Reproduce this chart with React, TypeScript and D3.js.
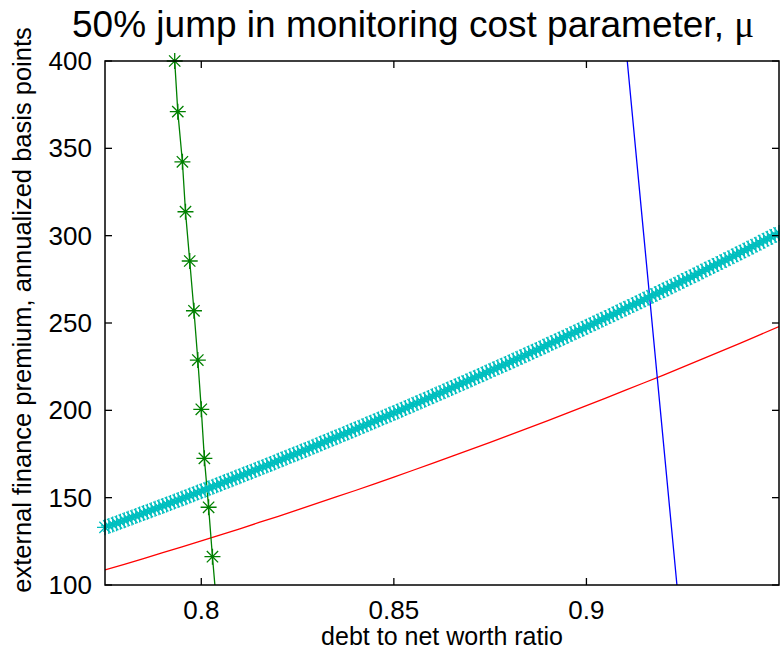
import React, { useEffect, useRef } from 'react';
import * as d3 from 'd3';

// axis ticks
const xTicks = [0.8, 0.85, 0.9];
const yTicks = [100, 150, 200, 250, 300, 350, 400];

// cyan series (with 50% jump in mu), x grid 0.775 .. 0.95 step 0.001
const jumpStart = 0.775;
const jumpStep = 0.001;
const premiumJump = [
  133.0, 133.8, 134.6, 135.4, 136.2, 137.1, 137.9, 138.7, 139.5, 140.3,
  141.2, 142.0, 142.8, 143.6, 144.5, 145.3, 146.1, 147.0, 147.8, 148.6,
  149.5, 150.3, 151.2, 152.0, 152.9, 153.7, 154.6, 155.4, 156.3, 157.1,
  158.0, 158.9, 159.7, 160.6, 161.5, 162.3, 163.2, 164.1, 164.9, 165.8,
  166.7, 167.6, 168.4, 169.3, 170.2, 171.1, 172.0, 172.9, 173.8, 174.7,
  175.5, 176.4, 177.3, 178.2, 179.1, 180.0, 181.0, 181.9, 182.8, 183.7,
  184.6, 185.5, 186.4, 187.3, 188.3, 189.2, 190.1, 191.0, 192.0, 192.9,
  193.8, 194.8, 195.7, 196.6, 197.6, 198.5, 199.4, 200.4, 201.3, 202.3,
  203.2, 204.2, 205.1, 206.1, 207.0, 208.0, 209.0, 209.9, 210.9, 211.9,
  212.8, 213.8, 214.8, 215.7, 216.7, 217.7, 218.7, 219.6, 220.6, 221.6,
  222.6, 223.6, 224.6, 225.5, 226.5, 227.5, 228.5, 229.5, 230.5, 231.5,
  232.5, 233.5, 234.5, 235.5, 236.5, 237.6, 238.6, 239.6, 240.6, 241.6,
  242.6, 243.7, 244.7, 245.7, 246.7, 247.8, 248.8, 249.8, 250.9, 251.9,
  252.9, 254.0, 255.0, 256.1, 257.1, 258.2, 259.2, 260.3, 261.3, 262.4,
  263.4, 264.5, 265.5, 266.6, 267.7, 268.7, 269.8, 270.9, 271.9, 273.0,
  274.1, 275.2, 276.2, 277.3, 278.4, 279.5, 280.6, 281.7, 282.7, 283.8,
  284.9, 286.0, 287.1, 288.2, 289.3, 290.4, 291.5, 292.6, 293.7, 294.8,
  295.9, 297.1, 298.2, 299.3, 300.4, 301.5,
];

// red series (baseline), x grid 0.775 .. 0.95 step 0.005
const baseStart = 0.775;
const baseStep = 0.005;
const premiumBase = [
  108.6, 111.8, 115.1, 118.5, 121.8, 125.2, 128.7, 132.2, 135.8, 139.3,
  143.0, 146.7, 150.4, 154.1, 157.9, 161.8, 165.7, 169.6, 173.6, 177.6,
  181.7, 185.8, 189.9, 194.1, 198.4, 202.7, 207.0, 211.4, 215.8, 220.2,
  224.7, 229.3, 233.9, 238.5, 243.2, 247.9,
];

// green series (with markers)
const greenX = [0.7922, 0.7931, 0.7939, 0.7951, 0.7959, 0.797, 0.7981, 0.7991, 0.8, 0.8008, 0.8019, 0.8029, 0.804];
const greenY = [428.6, 400.0, 371.0, 342.3, 313.7, 285.5, 257.0, 228.8, 200.6, 172.5, 144.5, 116.2, 87.8];

// blue series
const blueX = [0.9106, 0.9149, 0.9192, 0.9235];
const blueY = [400, 300, 200, 100];

const W = 780;
const H = 655;
const left = 105, right = 779, top = 61, bottom = 585;
const font = '"Liberation Sans", Arial, Helvetica, sans-serif';

const starPath = (r) => {
  const d = r * 0.7071;
  return `M${-r},0H${r}M0,${-r}V${r}M${-d},${-d}L${d},${d}M${-d},${d}L${d},${-d}`;
};

const App = () => {
  const ref = useRef(null);

  useEffect(() => {
    const svg = d3.select(ref.current);
    svg.selectAll('*').remove();

    const x = d3.scaleLinear().domain([0.775, 0.95]).range([left, right]);
    const y = d3.scaleLinear().domain([100, 400]).range([bottom, top]);

    svg.append('rect').attr('width', W).attr('height', H).attr('fill', '#fff');

    svg.append('defs').append('clipPath').attr('id', 'plotclip')
      .append('rect').attr('x', left).attr('y', top)
      .attr('width', right - left).attr('height', bottom - top);

    const line = d3.line().x(d => x(d[0])).y(d => y(d[1]));

    const jumpPts = premiumJump.map((v, i) => [jumpStart + i * jumpStep, v]);
    const basePts = premiumBase.map((v, i) => [baseStart + i * baseStep, v]);
    const greenPts = greenX.map((v, i) => [v, greenY[i]]);
    const bluePts = blueX.map((v, i) => [v, blueY[i]]);

    const plot = svg.append('g').attr('clip-path', 'url(#plotclip)');

    plot.append('path').attr('d', line(basePts)).attr('fill', 'none')
      .attr('stroke', '#ff0000').attr('stroke-width', 1.3);
    plot.append('path').attr('d', line(bluePts)).attr('fill', 'none')
      .attr('stroke', '#0000ff').attr('stroke-width', 1.3);
    plot.append('path').attr('d', line(greenPts)).attr('fill', 'none')
      .attr('stroke', '#008000').attr('stroke-width', 1.3);
    plot.append('path').attr('d', line(jumpPts)).attr('fill', 'none')
      .attr('stroke', '#00bfbf').attr('stroke-width', 1.3);

    // markers are not clipped, only drawn for points inside the axes
    const inside = d => d[0] >= 0.775 - 1e-9 && d[0] <= 0.95 + 1e-9 && d[1] >= 100 && d[1] <= 400;

    svg.append('g').selectAll('path')
      .data(greenPts.filter(inside))
      .enter().append('path')
      .attr('transform', d => `translate(${x(d[0])},${y(d[1])})`)
      .attr('d', starPath(8))
      .attr('fill', 'none').attr('stroke', '#008000').attr('stroke-width', 1.3);

    svg.append('g').selectAll('path')
      .data(jumpPts.filter(inside))
      .enter().append('path')
      .attr('transform', d => `translate(${x(d[0])},${y(d[1])})`)
      .attr('d', starPath(8))
      .attr('fill', 'none').attr('stroke', '#00bfbf').attr('stroke-width', 1.3);

    // box
    svg.append('rect').attr('x', left).attr('y', top)
      .attr('width', right - left).attr('height', bottom - top)
      .attr('fill', 'none').attr('stroke', '#000').attr('stroke-width', 1.5);

    const tl = 7;
    const ax = svg.append('g').attr('stroke', '#000').attr('stroke-width', 1.3);
    xTicks.forEach(t => {
      ax.append('line').attr('x1', x(t)).attr('x2', x(t)).attr('y1', bottom).attr('y2', bottom - tl);
      ax.append('line').attr('x1', x(t)).attr('x2', x(t)).attr('y1', top).attr('y2', top + tl);
    });
    yTicks.forEach(t => {
      ax.append('line').attr('x1', left).attr('x2', left + tl).attr('y1', y(t)).attr('y2', y(t));
      ax.append('line').attr('x1', right).attr('x2', right - tl).attr('y1', y(t)).attr('y2', y(t));
    });

    svg.append('g').selectAll('text').data(xTicks).enter().append('text')
      .attr('x', d => x(d)).attr('y', 619)
      .attr('text-anchor', 'middle').attr('font-family', font).attr('font-size', 26)
      .text(d => d3.format('')(d));

    svg.append('g').selectAll('text').data(yTicks).enter().append('text')
      .attr('x', 92).attr('y', d => y(d) + 9)
      .attr('text-anchor', 'end').attr('font-family', font).attr('font-size', 26)
      .text(d => d);

    svg.append('text').attr('x', (left + right) / 2).attr('y', 645)
      .attr('text-anchor', 'middle').attr('font-family', font).attr('font-size', 25)
      .text('debt to net worth ratio');

    svg.append('text').attr('transform', `translate(31,310) rotate(-90)`)
      .attr('text-anchor', 'middle').attr('font-family', font).attr('font-size', 25.5)
      .text('external finance premium, annualized basis points');

    const title = svg.append('text').attr('x', 72).attr('y', 37)
      .attr('font-family', font).attr('font-size', 37);
    title.append('tspan').text('50% jump in monitoring cost parameter, ');
    title.append('tspan').attr('font-family', '"Liberation Serif", "DejaVu Serif", serif').text('μ');
  }, []);

  return (
    <div style={{ position: 'absolute', left: 0, top: 0 }}>
      <svg ref={ref} width={W} height={H} style={{ display: 'block' }}></svg>
    </div>
  );
};

export default App;
